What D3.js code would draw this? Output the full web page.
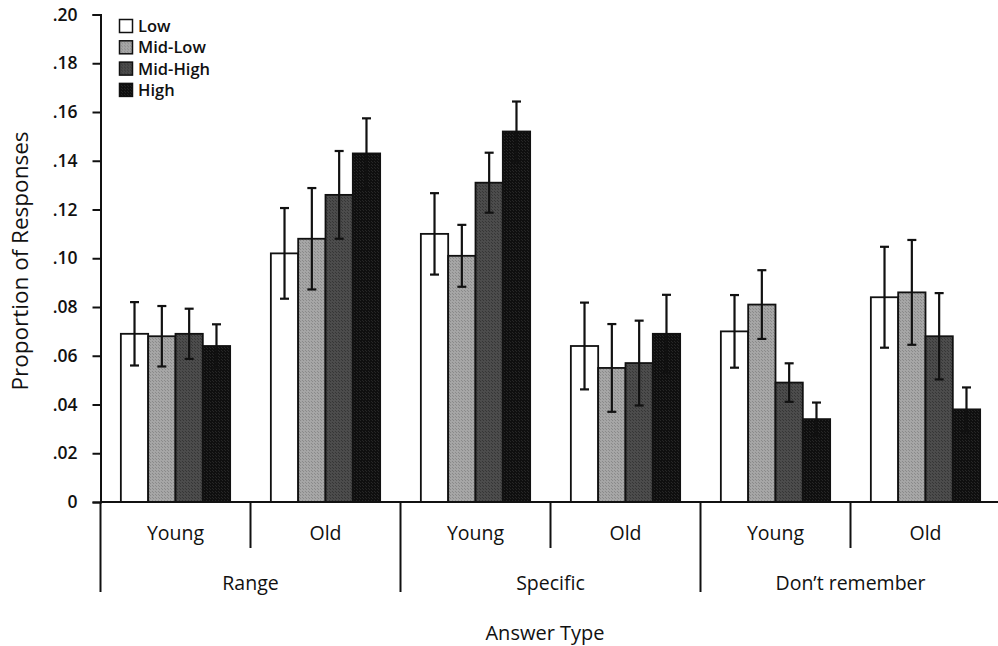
<!DOCTYPE html>
<html><head><meta charset="utf-8">
<script src="https://cdn.jsdelivr.net/npm/d3@7"></script>
<style>
body{margin:0;background:#fff;}
svg{display:block;}
text{font-family:"Open Sans","DejaVu Sans",sans-serif;fill:#111;}
</style></head>
<body>
<script>
// ---- data ----
const answerTypes = ["Range", "Specific", "Don\u2019t remember"];
const ageGroups = ["Young", "Old"];
const seriesNames = ["Low", "Mid-Low", "Mid-High", "High"];
const yTicks = [0, 0.02, 0.04, 0.06, 0.08, 0.10, 0.12, 0.14, 0.16, 0.18, 0.20];
// values in order: Range-Young, Range-Old, Specific-Young, Specific-Old, DR-Young, DR-Old
const lowValues     = [0.069, 0.102, 0.110, 0.064, 0.070, 0.084];
const midLowValues  = [0.068, 0.108, 0.101, 0.055, 0.081, 0.086];
const midHighValues = [0.069, 0.126, 0.131, 0.057, 0.049, 0.068];
const highValues    = [0.064, 0.143, 0.152, 0.069, 0.034, 0.038];
const lowErr     = [0.013, 0.0186, 0.0167, 0.0178, 0.0149, 0.0207];
const midLowErr  = [0.0124, 0.0208, 0.0127, 0.018, 0.0141, 0.0215];
const midHighErr = [0.0103, 0.018, 0.0123, 0.0174, 0.0079, 0.0177];
const highErr    = [0.0089, 0.0144, 0.0123, 0.016, 0.0068, 0.009];

const seriesValues = [lowValues, midLowValues, midHighValues, highValues];
const seriesErrors = [lowErr, midLowErr, midHighErr, highErr];

const W = 998, H = 646;
const svg = d3.select("body").append("svg").attr("width", W).attr("height", H);
const defs = svg.append("defs");
// subtle dithered texture patterns for grey fills
[["pMidLow","#a6a6a6","#8a8a8a"],["pMidHigh","#4c4c4c","#363636"],["pHigh","#0f0f0f","#262626"]].forEach(([id,base,dot])=>{
  const p = defs.append("pattern").attr("id",id).attr("width",3).attr("height",3).attr("patternUnits","userSpaceOnUse");
  p.append("rect").attr("width",3).attr("height",3).attr("fill",base);
  p.append("rect").attr("x",0).attr("y",0).attr("width",1).attr("height",1).attr("fill",dot);
  p.append("rect").attr("x",2).attr("y",2).attr("width",1).attr("height",1).attr("fill",dot);
});
const fillRefs = ["#ffffff", "url(#pMidLow)", "url(#pMidHigh)", "url(#pHigh)"];

const x0 = 100.5, xEnd = 1000.5, yBase = 502, yTop = 14.5;
const groups = [];
answerTypes.forEach(a => ageGroups.forEach(g => groups.push(a + "|" + g)));

const xGroup = d3.scaleBand().domain(groups).range([x0, xEnd]).paddingInner(0).paddingOuter(0);
const xSeries = d3.scaleBand().domain(seriesNames).range([0, xGroup.bandwidth()]).paddingInner(0).paddingOuter(0.745);
const y = d3.scaleLinear().domain([0, 0.20]).range([yBase, yTop]);

// y axis
const yAxis = d3.axisLeft(y).tickValues(yTicks).tickSize(8).tickPadding(15)
  .tickFormat(d => d === 0 ? "0" : d3.format(".2f")(d).replace(/^0/, ""));
const gy = svg.append("g").attr("transform", `translate(${x0},0)`).call(yAxis);
gy.select(".domain").attr("stroke", "#111").attr("stroke-width", 2);
gy.selectAll(".tick line").attr("stroke", "#111").attr("stroke-width", 2);
gy.selectAll(".tick text").attr("font-size", 17.5).attr("font-weight", 600)
  .attr("font-family", "'Open Sans',sans-serif").attr("fill", "#111");

// bars
const data = [];
groups.forEach((g, gi) => seriesNames.forEach((s, si) => {
  data.push({g, s, si, v: seriesValues[si][gi], e: seriesErrors[si][gi]});
}));
const bars = svg.append("g");
bars.selectAll("rect").data(data).join("rect")
  .attr("x", d => xGroup(d.g) + xSeries(d.s))
  .attr("y", d => y(d.v))
  .attr("width", xSeries.bandwidth())
  .attr("height", d => y(0) - y(d.v))
  .attr("fill", d => fillRefs[d.si])
  .attr("stroke", "#111").attr("stroke-width", 1.8);

// error bars
const eb = svg.append("g").attr("stroke", "#111").attr("stroke-width", 2.2);
data.forEach(d => {
  const cx = xGroup(d.g) + xSeries(d.s) + xSeries.bandwidth() / 2;
  eb.append("line").attr("x1", cx).attr("x2", cx).attr("y1", y(d.v + d.e)).attr("y2", y(d.v - d.e));
  [d.v + d.e, d.v - d.e].forEach(t => {
    eb.append("line").attr("x1", cx - 4.5).attr("x2", cx + 4.5).attr("y1", y(t)).attr("y2", y(t));
  });
});

// x axis baseline
svg.append("line").attr("x1", x0).attr("x2", W).attr("y1", yBase).attr("y2", yBase)
  .attr("stroke", "#111").attr("stroke-width", 2);

// dividers
const xl = svg.append("g").attr("stroke", "#111").attr("stroke-width", 2);
groups.forEach((g, gi) => {
  const gx = xGroup(g);
  const major = gi % 2 === 0;
  if (gx < W) xl.append("line").attr("x1", gx).attr("x2", gx).attr("y1", yBase).attr("y2", major ? 592 : 548);
});

// age labels
svg.append("g").selectAll("text").data(groups).join("text")
  .attr("x", d => xGroup(d) + xGroup.bandwidth() / 2)
  .attr("y", 540)
  .attr("text-anchor", "middle").attr("font-size", 19.5).attr("font-weight", 500)
  .text(d => d.split("|")[1]);

// answer type labels
svg.append("g").selectAll("text").data(answerTypes).join("text")
  .attr("x", d => xGroup(d + "|Young") + xGroup.bandwidth())
  .attr("y", 590)
  .attr("text-anchor", "middle").attr("font-size", 19.5).attr("font-weight", 500)
  .text(d => d);

// axis titles
svg.append("text").attr("x", 545).attr("y", 640).attr("text-anchor", "middle")
  .attr("font-size", 20).attr("font-weight", 500).text("Answer Type");
svg.append("text").attr("transform", "translate(28,261) rotate(-90)").attr("text-anchor", "middle")
  .attr("font-size", 22.5).text("Proportion of Responses");

// legend
const lg = svg.append("g").attr("transform", "translate(119,19)");
seriesNames.forEach((s, i) => {
  const row = lg.append("g").attr("transform", `translate(0,${i * 21.3})`);
  row.append("rect").attr("x", 0.5).attr("y", 0.5).attr("width", 13).attr("height", 13)
    .attr("fill", fillRefs[i]).attr("stroke", "#111").attr("stroke-width", 1.5);
  row.append("text").attr("x", 19).attr("y", 13).attr("font-size", 16.5).attr("font-weight", 600).text(s);
});
</script>
</body></html>
